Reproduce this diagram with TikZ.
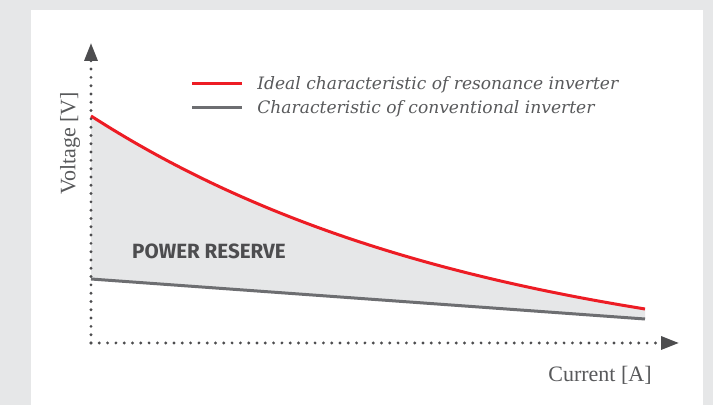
\documentclass[tikz,border=0pt]{standalone}
\usepackage{fontspec}
\setmainfont{Liberation Serif}
\setsansfont{Fira Sans}
\newfontfamily\legendfont{DejaVu Serif}
\usetikzlibrary{arrows.meta}
\definecolor{panelgray}{HTML}{E6E7E8}
\definecolor{curvered}{HTML}{ED1C24}
\definecolor{linegray}{HTML}{6D6E71}
\definecolor{dotgray}{HTML}{4D4D4F}
\definecolor{textgray}{HTML}{58595B}
\tikzset{%
	axis/.style={
		dotgray,
		line width=1.6pt,
		line cap=round,
		dash pattern=on 0pt off 4.15pt,
		-{Triangle[length=9pt,width=6.5pt]}
	},
	curve-ideal/.style={ draw=curvered, line width=1.5pt },
	curve-conventional/.style={ draw=linegray, line width=1.5pt },
	axis-label/.style={
		text=textgray,
		inner sep=0pt,
		font=\fontsize{11}{13}\selectfont
	},
	legend-label/.style={
		text=textgray,
		inner sep=0pt,
		anchor=base west,
		font=\legendfont\itshape\fontsize{8.55}{10}\selectfont
	},
	reserve-label/.style={
		text=dotgray,
		inner sep=0pt,
		font=\sffamily\bfseries\fontsize{10.3}{12}\selectfont
	},
}

\begin{document}
\begin{tikzpicture}[x=0.5pt, y=-0.5pt, >=stealth]
% background and panel
\fill[panelgray] (0,0) rectangle (713,405);
\fill[white] (31,10) rectangle (703,405);

% axes
\coordinate (origin) at (91,343);
\coordinate (y-end) at (91,43);
\coordinate (x-end) at (679,343);

% characteristics
\coordinate (ideal-start) at (91,116);
\coordinate (ideal-end) at (645,309);
\coordinate (conv-start) at (91,279);
\coordinate (conv-end) at (645,319);

% power reserve area
\fill[panelgray] plot[domain=91:645, samples=80] (\x, {373.3-257.3*exp(-0.0025*(\x-91))})
	-- (conv-end) -- (conv-start) -- cycle;
\draw[curve-ideal] plot[domain=91:645, samples=80] (\x, {373.3-257.3*exp(-0.0025*(\x-91))});
\draw[curve-conventional] (conv-start) -- (conv-end);

\draw[axis] (origin) -- (y-end);
\draw[axis] (origin) -- (x-end);

% axis labels
\node[axis-label, rotate=90] (v-label) at (70,143.5) {Voltage [V]};
\node[axis-label] (c-label) at (600,375) {Current [A]};
\node[reserve-label] (reserve) at (209,251) {POWER RESERVE};

% legend
\foreach \s/\t [count=\i] in {curve-ideal/Ideal characteristic of resonance inverter,
	curve-conventional/Characteristic of conventional inverter}
{
	\coordinate (key-\i-a) at (192,60+24*\i);
	\coordinate (key-\i-b) at (242,60+24*\i);
	\draw[\s] (key-\i-a) -- (key-\i-b);
	\node[legend-label] (legend-\i) at (257,66+24*\i) {\t};
}

\end{tikzpicture}
\end{document}
